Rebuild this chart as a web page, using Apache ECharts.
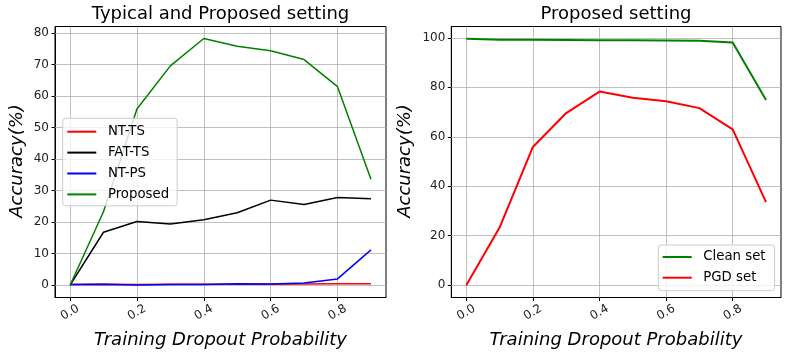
<!DOCTYPE html>
<html><head><meta charset="utf-8">
<script src="https://cdn.jsdelivr.net/npm/echarts@6/dist/echarts.min.js"></script>
<style>html,body{margin:0;padding:0;background:#fff}#c{width:791px;height:359px}</style>
</head><body><div id="c"></div>
<script>
const dropout = [0.0, 0.1, 0.2, 0.3, 0.4, 0.5, 0.6, 0.7, 0.8, 0.9];
const ntTS = [0.2, 0.3, 0.2, 0.3, 0.3, 0.3, 0.3, 0.4, 0.5, 0.5];
const fatTS = [0.0, 16.8, 20.2, 19.4, 20.8, 23.0, 27.0, 25.6, 27.8, 27.4];
const ntPS = [0.2, 0.3, 0.1, 0.2, 0.2, 0.5, 0.4, 0.7, 2.0, 11.2];
const proposed = [0.0, 23.3, 55.9, 69.6, 78.3, 75.8, 74.4, 71.6, 63.0, 33.6];
const cleanSet = [99.6, 99.2, 99.2, 99.1, 99.0, 99.0, 98.9, 98.8, 98.1, 74.9];
const pgdSet = proposed;
const xTicks = [0.0, 0.2, 0.4, 0.6, 0.8];
const yTicksLeft = [0, 10, 20, 30, 40, 50, 60, 70, 80];
const yTicksRight = [0, 20, 40, 60, 80, 100];

const pairs = (xs, ys) => xs.map((x, i) => [x, ys[i]]);
const tickFont = {fontFamily: 'DejaVu Sans', fontSize: 12, color: '#222'};
function xAxis(gi) {
  return {
    type: 'value', gridIndex: gi, min: -0.045, max: 0.945,
    axisLine: {show: true, onZero: false, lineStyle: {color: '#000', width: 1}},
    axisTick: {show: true, length: 3.5, customValues: xTicks, lineStyle: {color: '#000'}},
    axisLabel: Object.assign({customValues: xTicks, rotate: 30, align: 'center', verticalAlign: 'middle', margin: 15,
      formatter: v => v.toFixed(1)}, tickFont),
    splitLine: {show: false}
  };
}
function yAxis(gi, min, max, ticks) {
  return {
    type: 'value', gridIndex: gi, min: min, max: max,
    axisLine: {show: true, onZero: false, lineStyle: {color: '#000', width: 1}},
    axisTick: {show: true, length: 3.5, customValues: ticks, lineStyle: {color: '#000'}},
    axisLabel: Object.assign({customValues: ticks, margin: 6}, tickFont),
    splitLine: {show: false}
  };
}
function line(name, data, color, w, xi, yi) {
  return {type: 'line', name: name, data: data, xAxisIndex: xi, yAxisIndex: yi,
    symbol: 'none', lineStyle: {color: color, width: w}, itemStyle: {color: color}, animation: false, z: 3};
}
function gridSeries(xi, yi, xt, yt) {
  return {type: 'line', data: [], xAxisIndex: xi, yAxisIndex: yi, z: 1, silent: true,
    markLine: {silent: true, symbol: 'none', animation: false, z: 1, label: {show: false},
      lineStyle: {color: '#b0b0b0', width: 0.8, type: 'solid'}, emphasis: {disabled: true},
      data: xt.map(v => ({xAxis: v})).concat(yt.map(v => ({yAxis: v})))}};
}
const legendText = {fontFamily: 'DejaVu Sans', fontSize: 13.3, color: '#000', lineHeight: 14, padding: [0, 0, 0, 6.6]};
const legendBase = {orient: 'vertical', itemWidth: 29, itemHeight: 14, itemGap: 6.9,
  backgroundColor: 'rgba(255,255,255,0.8)', borderColor: '#cccccc', borderWidth: 1, borderRadius: 3,
  icon: 'path://M0,0 L29,0 L29,2 L0,2 Z', textStyle: legendText};
const txt = (t, x, y, rot, it) => ({type: 'text', x: x, y: y, rotation: rot || 0,
  style: {text: t, x: 0, y: 0, textAlign: 'center', textVerticalAlign: 'middle', fill: '#000',
    font: (it ? 'italic ' : '') + '18px "DejaVu Sans"'}});

const chart = echarts.init(document.getElementById('c'), null, {renderer: 'canvas'});
chart.setOption({
  animation: false,
  grid: [
    {left: 55, top: 26.5, width: 331, height: 271, show: true, borderColor: '#000', borderWidth: 1, backgroundColor: 'transparent'},
    {left: 451.3, top: 26.5, width: 329.7, height: 271, show: true, borderColor: '#000', borderWidth: 1, backgroundColor: 'transparent'}
  ],
  xAxis: [xAxis(0), xAxis(1)],
  yAxis: [yAxis(0, -3.9, 82.1, yTicksLeft), yAxis(1, -4.98, 104.6, yTicksRight)],
  legend: [
    Object.assign({}, legendBase, {left: 62.7, top: 118.3, padding: [6.4, 8, 4.4, 4.6],
      data: ['NT-TS', 'FAT-TS', 'NT-PS', 'Proposed']}),
    Object.assign({}, legendBase, {left: 658.3, top: 245, padding: [5, 9, 6, 4.4], itemGap: 6.7,
      data: ['Clean set', 'PGD set']})
  ],
  series: [
    gridSeries(0, 0, xTicks, yTicksLeft),
    gridSeries(1, 1, xTicks, yTicksRight),
    line('NT-TS', pairs(dropout, ntTS), '#ff0000', 1.5, 0, 0),
    line('FAT-TS', pairs(dropout, fatTS), '#000000', 1.5, 0, 0),
    line('NT-PS', pairs(dropout, ntPS), '#0000ff', 1.5, 0, 0),
    line('Proposed', pairs(dropout, proposed), '#008000', 1.5, 0, 0),
    line('Clean set', pairs(dropout, cleanSet), '#008000', 2, 1, 1),
    line('PGD set', pairs(dropout, pgdSet), '#ff0000', 2, 1, 1)
  ],
  graphic: [
    txt('Typical and Proposed setting', 220.5, 14.5),
    txt('Proposed setting', 616, 14.5),
    txt('Training Dropout Probability', 220.5, 340.4, 0, true),
    txt('Training Dropout Probability', 616, 340.4, 0, true),
    txt('Accuracy(%)', 17.7, 161, Math.PI / 2, true),
    txt('Accuracy(%)', 405.4, 161, Math.PI / 2, true)
  ]
});
</script></body></html>
